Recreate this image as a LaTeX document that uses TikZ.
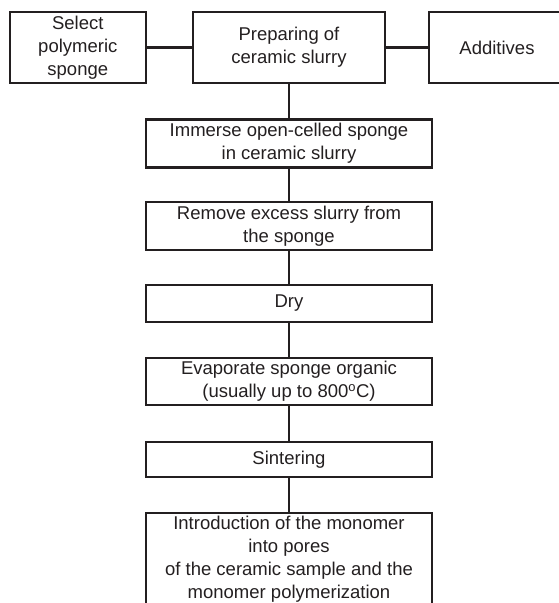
\documentclass[tikz,border=0pt]{standalone}
\usepackage{fontspec}
\setmainfont{Liberation Sans}
\definecolor{ink}{RGB}{35,31,32}
\begin{document}
\begin{tikzpicture}[x=1pt,y=-1pt,
  box/.style={draw=ink, line width=2.4pt, align=center, text=ink,
    font=\fontsize{18.5}{23}\selectfont, inner sep=0pt, anchor=center},
  side/.style={box, minimum width=136pt, minimum height=71pt},
  mid/.style={box, minimum width=286pt},
  link/.style={draw=ink, line width=2.4pt}]
\useasboundingbox (0,0) rectangle (559,603);
\clip (0,0) rectangle (559,603);
\node[side] (select) at (77.8,47.5) {Select\\polymeric\\sponge};
\node[box, minimum width=192pt, minimum height=71pt] (prep) at (289,47.5) {Preparing of\\ceramic slurry};
\node[side] (add) at (497,47.5) {Additives};
\node[mid, minimum height=48pt] (immerse) at (289,143.5) {Immerse open-celled sponge\\in ceramic slurry};
\node[mid, minimum height=48pt] (remove) at (289,226) {Remove excess slurry from\\the sponge};
\node[mid, minimum height=37pt] (dry) at (289,303.5) {Dry};
\node[mid, minimum height=47pt] (evap) at (289,381.5) {Evaporate sponge organic\\(usually up to 800\textsuperscript{o}C)};
\node[mid, minimum height=35pt] (sinter) at (289,459.5) {Sintering};
\node[mid, minimum height=92pt] (intro) at (289,559) {Introduction of the monomer\\into pores\\of the ceramic sample and the\\monomer polymerization};
\draw[link] (select) -- (prep);
\draw[link] (prep) -- (add);
\draw[link] (prep) -- (immerse);
\draw[link] (immerse) -- (remove);
\draw[link] (remove) -- (dry);
\draw[link] (dry) -- (evap);
\draw[link] (evap) -- (sinter);
\draw[link] (sinter) -- (intro);
\end{tikzpicture}
\end{document}
